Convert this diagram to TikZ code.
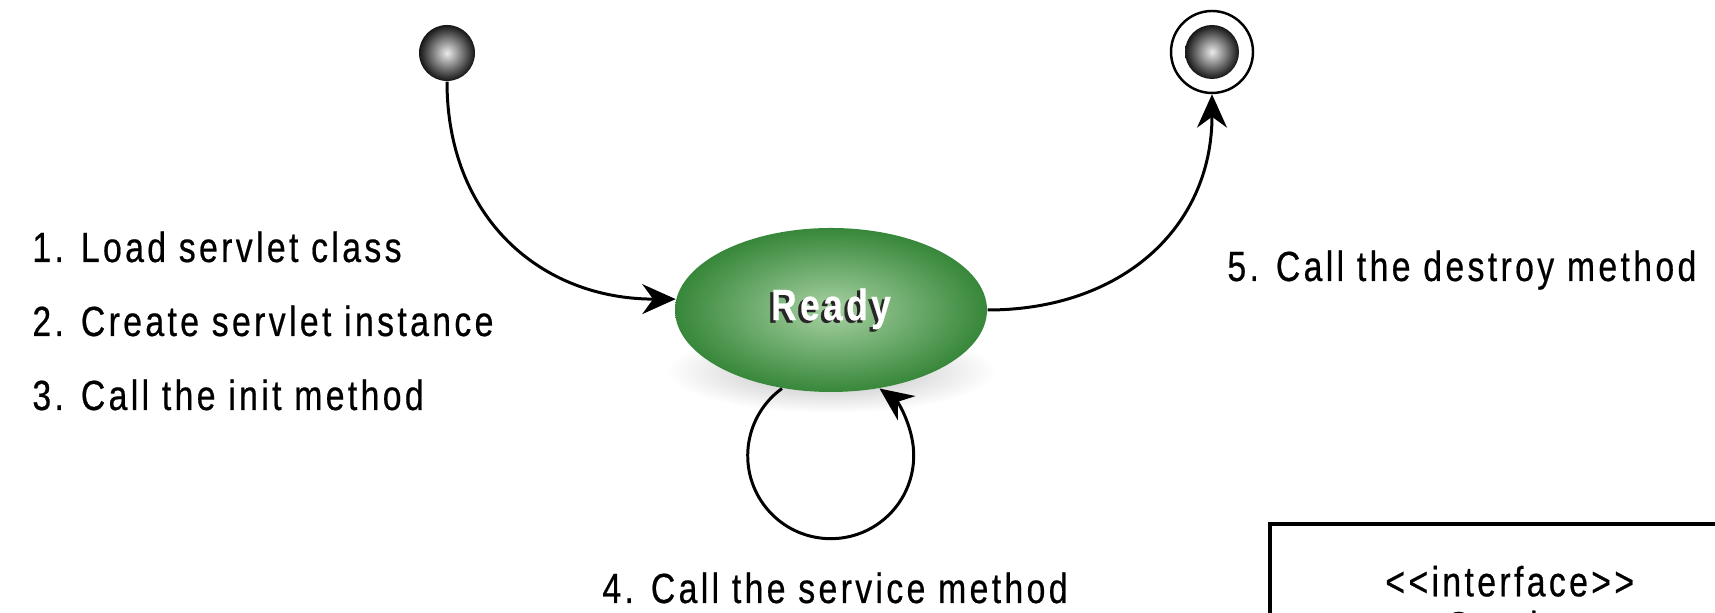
\documentclass[tikz,border=0pt]{standalone}
\usepackage{fontspec}
\setmainfont{Liberation Sans}[FakeStretch=0.8,LetterSpace=8,FakeBold=0.5]
\usetikzlibrary{positioning,arrows.meta,shapes.geometric}
\definecolor{readygreen}{HTML}{37873A}
\definecolor{readylight}{HTML}{A8D2A3}
\definecolor{balldark}{HTML}{151515}
\newcommand{\shadowtext}[1]{\makebox[0pt][l]{\hspace*{-0.9pt}\raisebox{-0.7pt}{\color{black!85}#1}}#1}

\begin{document}
\begin{tikzpicture}[
    >={Stealth[length=9.5pt,width=8.5pt]},
    every node/.style={font=\fontsize{12}{14}\selectfont},
    pseudo/.style={
        circle, inner sep=0pt, minimum size=#1,
        inner color=black!8, outer color=balldark
    },
    endring/.style={
        circle, draw, line width=0.7pt, fill=white,
        minimum size=0.82cm, inner sep=0pt
    },
    state/.style={
        ellipse, inner sep=0pt, minimum width=3.12cm, minimum height=1.64cm,
        inner color=readylight, outer color=readygreen,
        text=white, font=\fontsize{12.5}{14}\selectfont\bfseries
    },
    note/.style={anchor=base west},
    ifacebox/.style={
        draw, line width=1pt, anchor=north west, align=center,
        minimum width=4.8cm, minimum height=1.6cm, inner ysep=0.25cm,
        font=\fontsize{12}{12.8}\selectfont
    },
    flow/.style={->, line width=0.85pt},
]
\useasboundingbox (0,0) rectangle (17.15,6.13);

% === Start and end states ===
\node[pseudo=0.56cm] (start) at (4.47,5.60) {};
\node[endring] (stop) at (12.12,5.61) {};
\node[pseudo=0.54cm] (stopdot) at (stop.center) {};

% === Ready state (soft shadow first) ===
\shade[inner color=black!28, outer color=white] (8.31,2.42) ellipse (1.65 and 0.42);
\node[state] (ready) at (8.31,3.03) {\shadowtext{Ready}};

% Step labels
\node[note] (load) at (0.20,3.51) {1. Load servlet class};
\node[note] (create) at ([yshift=-0.74cm]load.base west) {2. Create servlet instance};
\node[note] (init) at ([yshift=-0.74cm]create.base west) {3. Call the init method};
\node[note, anchor=base] (service) at (8.35,0.10) {4. Call the service method};
\node[note] (destroy) at (12.15,3.32) {5. Call the destroy method};

% Transitions
\draw[flow] (start.south) to[out=-90, in=180, looseness=1.1] (ready.176);
\draw[flow] (ready.east) to[out=0, in=-90, looseness=1.1] (stop.south);
\draw[flow] (ready.-122) arc[start angle=126, end angle=414, radius=0.83];

% === Servlet interface box ===
\node[ifacebox] (servlet) at (12.68,0.91) {<{}<interface>{}>\\Servlet};

\end{tikzpicture}
\end{document}
